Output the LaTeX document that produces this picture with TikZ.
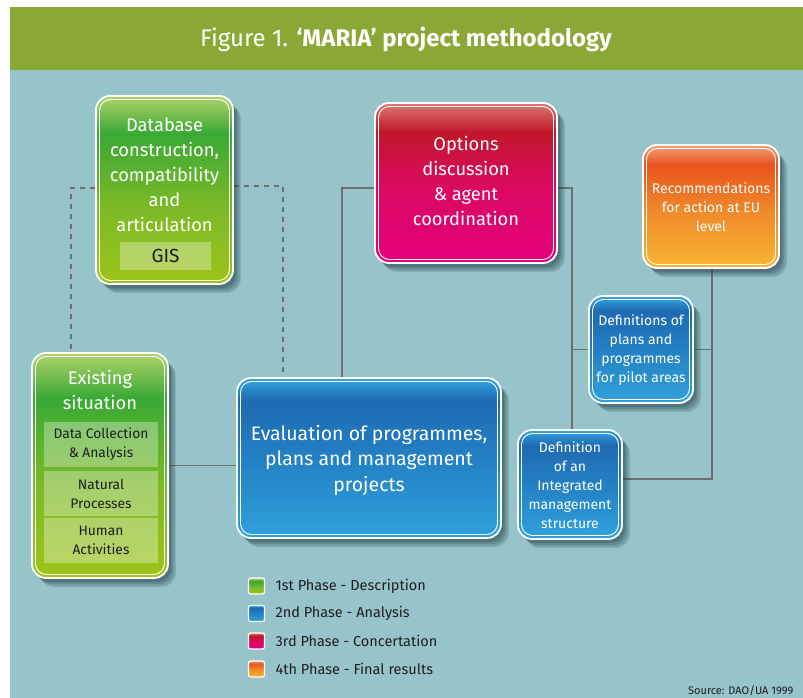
\documentclass[tikz,border=0pt]{standalone}
\usepackage{fontspec}
\setmainfont{Fira Sans}
\usetikzlibrary{positioning,shadows}

\definecolor{bgteal}{HTML}{97C3CB}
\definecolor{bargreen}{HTML}{8AA835}
\definecolor{linegrey}{HTML}{6E6E6E}
\definecolor{bandtxt}{HTML}{1E1E1E}
\definecolor{shadowc}{HTML}{1F3D45}
% green phase
\definecolor{gtop}{HTML}{B0D36A}
\definecolor{gdark}{HTML}{3AA935}
\definecolor{gmid}{HTML}{7DBA27}
\definecolor{gbot}{HTML}{9EC41A}
% blue phase
\definecolor{btop}{HTML}{35A8E0}
\definecolor{bdark}{HTML}{1F6AB2}
\definecolor{bmid}{HTML}{2380C4}
\definecolor{bbot}{HTML}{30A2DB}
% red phase
\definecolor{rtop}{HTML}{DB7A72}
\definecolor{rdark}{HTML}{C0172B}
\definecolor{rmid}{HTML}{DA0A5E}
\definecolor{rbot}{HTML}{E4007D}
% orange phase
\definecolor{otop}{HTML}{F2A37A}
\definecolor{odark}{HTML}{E9531D}
\definecolor{omid}{HTML}{F08A2A}
\definecolor{obot}{HTML}{F8B533}

\pgfdeclareverticalshading{gshade}{100bp}{color(0bp)=(gbot); color(25bp)=(gbot);
  color(45bp)=(gmid); color(65bp)=(gdark); color(75bp)=(gtop); color(100bp)=(gtop)}
\pgfdeclareverticalshading{bshade}{100bp}{color(0bp)=(bbot); color(25bp)=(bbot);
  color(50bp)=(bmid); color(68bp)=(bdark); color(75bp)=(btop); color(100bp)=(btop)}
\pgfdeclareverticalshading{rshade}{100bp}{color(0bp)=(rbot); color(25bp)=(rbot);
  color(50bp)=(rmid); color(66bp)=(rdark); color(75bp)=(rtop); color(100bp)=(rtop)}
\pgfdeclareverticalshading{oshade}{100bp}{color(0bp)=(obot); color(25bp)=(obot);
  color(48bp)=(omid); color(67bp)=(odark); color(75bp)=(otop); color(100bp)=(otop)}

\pgfdeclarelayer{bg}
\pgfdeclarelayer{lines}
\pgfsetlayers{bg,lines,main}

\tikzset{
  softshadow/.style={
    drop shadow={shadow xshift=8pt, shadow yshift=-9pt, opacity=0.12, fill=shadowc, draw=none},
    drop shadow={shadow xshift=7pt, shadow yshift=-8pt, opacity=0.16, fill=shadowc, draw=none},
    drop shadow={shadow xshift=5pt, shadow yshift=-6pt, opacity=0.22, fill=shadowc, draw=none},
    drop shadow={shadow xshift=3pt, shadow yshift=-4pt, opacity=0.25, fill=shadowc, draw=none}},
  box/.style={rounded corners=14pt, draw=white, line width=1.8pt, inner sep=0pt, softshadow,
    path picture={\draw[white, line width=0.9pt, rounded corners=11pt]
      ([shift={(3.5pt,3.5pt)}]path picture bounding box.south west) rectangle
      ([shift={(-3.5pt,-3.5pt)}]path picture bounding box.north east);}},
  boxtxt/.style={text=white, align=center, font=\fontsize{18.3}{25}\selectfont},
  smalltxt/.style={text=white, align=center, font=\fontsize{14}{19}\selectfont},
  band/.style={fill=white, fill opacity=0.32, text opacity=1, text=bandtxt,
    align=center, inner sep=0pt, font=\fontsize{13.8}{19}\selectfont},
  conn/.style={draw=linegrey, line width=1.4pt},
  dconn/.style={draw=linegrey, line width=1.2pt, dash pattern=on 5pt off 5pt},
  legbox/.style={rounded corners=2pt, draw=white, line width=1.2pt,
    minimum size=16pt, inner sep=0pt},
  legtxt/.style={anchor=west, text=bandtxt, font=\fontsize{14.5}{18}\selectfont}
}

\begin{document}
\begin{tikzpicture}[x=1pt,y=-1pt]
  \useasboundingbox (0,0) rectangle (803,698);
  \begin{pgfonlayer}{bg}
    \fill[white] (0,0) rectangle (803,698);
    \fill[bgteal] (10,70) rectangle (803,698);
    \fill[bargreen] (10,7) rectangle (803,70);
  \end{pgfonlayer}
  \node[text=white, font=\fontsize{24}{28}\selectfont] (title) at (406,39)
    {Figure 1. \textbf{‘MARIA’ project methodology}};

  % phase boxes
  \node[box, shading=gshade, minimum width=137pt, minimum height=188pt] (db) at (164.5,190) {};
  \node[box, shading=gshade, minimum width=136pt, minimum height=225pt] (exist) at (100,465.5) {};
  \node[box, shading=rshade, minimum width=182pt, minimum height=160pt] (opt) at (466,183) {};
  \node[box, shading=oshade, minimum width=136pt, minimum height=123pt] (rec) at (711,206.5) {};
  \node[box, shading=bshade, minimum width=104pt, minimum height=107pt] (defp) at (641,349.5) {};
  \node[box, shading=bshade, minimum width=104pt, minimum height=109pt] (integ) at (570,484.5) {};
  \node[box, shading=bshade, minimum width=264pt, minimum height=160pt] (eval) at (369,458) {};

  % texts
  \node[boxtxt] (dbtxt) at (164.5,175) {Database\\construction,\\compatibility\\and\\articulation};
  \node[band, minimum width=91pt, minimum height=28pt, font=\fontsize{19}{22}\selectfont] (gis) at (165.5,256) {GIS};
  \node[boxtxt] (extxt) at (100,390) {Existing\\situation};
  \node[band, minimum width=114pt, minimum height=45pt] (band1) at (101,444.5) {Data Collection\\\& Analysis};
  \node[band, minimum width=114pt, minimum height=45pt] (band2) at (101,493.5) {Natural\\Processes};
  \node[band, minimum width=114pt, minimum height=45pt] (band3) at (101,540.5) {Human\\Activities};
  \node[boxtxt] (opttxt) at (466,180.5) {Options\\discussion\\\& agent\\coordination};
  \node[smalltxt] (rectxt) at (711,207) {Recommendations\\for action at EU\\level};
  \node[smalltxt] (defptxt) at (641,350) {Definitions of\\plans and\\programmes\\for pilot areas};
  \node[smalltxt] (integtxt) at (570,485) {Definition\\of an\\Integrated\\management\\structure};
  \node[boxtxt, font=\fontsize{19.5}{25.5}\selectfont] (evaltxt) at (369,460) {Evaluation of programmes,\\plans and management\\projects};

  % connectors
  \coordinate (d1) at (71,188);
  \coordinate (d2) at (283,186);
  \coordinate (j1) at (342,188);
  \coordinate (j2) at (572,188);
  \coordinate (j3) at (712,479);
  \begin{pgfonlayer}{lines}
    \draw[dconn] (db.west |- d1) -- (d1) -- (d1 |- exist.north);
    \draw[dconn] (db.east |- d2) -- (d2) -- (d2 |- eval.north);
    \draw[conn] (exist.east) -- (exist.east -| eval.west);
    \draw[conn] (opt.west |- j1) -- (j1) -- (j1 |- eval.north);
    \draw[conn] (opt.east |- j2) -- (j2) -- (j2 |- integ.north);
    \draw[conn] (defp.west) -- (defp.west -| j2);
    \draw[conn] (rec.south -| j3) -- (j3) -- (j3 -| integ.east);
    \draw[conn] (defp.east) -- (defp.east -| j3);
  \end{pgfonlayer}

  % legend
  \node[legbox, shading=gshade] (leg1) at (256.5,586) {};
  \node[legbox, shading=bshade] (leg2) at (256.5,613.5) {};
  \node[legbox, shading=rshade] (leg3) at (256.5,641) {};
  \node[legbox, shading=oshade] (leg4) at (256.5,669) {};
  \node[legtxt, right=7pt of leg1] (lt1) {1st Phase - Description};
  \node[legtxt, right=7pt of leg2] (lt2) {2nd Phase - Analysis};
  \node[legtxt, right=7pt of leg3] (lt3) {3rd Phase - Concertation};
  \node[legtxt, right=7pt of leg4] (lt4) {4th Phase - Final results};
  \node[anchor=east, text=bandtxt, font=\fontsize{11}{13}\selectfont] (src) at (797,691) {Source: DAO/UA 1999};
\end{tikzpicture}
\end{document}
